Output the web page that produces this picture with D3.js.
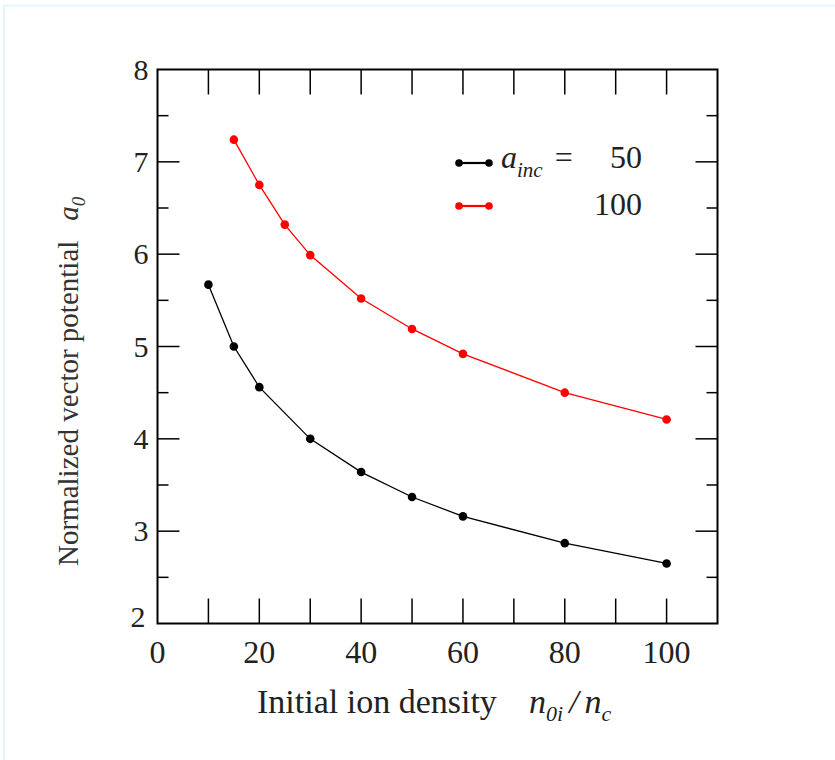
<!DOCTYPE html>
<html><head><meta charset="utf-8">
<script src="https://cdn.jsdelivr.net/npm/d3@7"></script>
<style>body{margin:0;background:#fff;}svg{display:block;}</style>
</head><body>
<script>
const density50 = [10, 15, 20, 30, 40, 50, 60, 80, 100];
const a0_50 = [5.67, 5.0, 4.56, 4.0, 3.64, 3.37, 3.16, 2.87, 2.65];
const density100 = [15, 20, 25, 30, 40, 50, 60, 80, 100];
const a0_100 = [7.24, 6.75, 6.32, 5.99, 5.52, 5.19, 4.92, 4.5, 4.21];
const xTickLabels = [0, 20, 40, 60, 80, 100];
const yTickLabels = [2, 3, 4, 5, 6, 7, 8];
const seriesNames = ["50", "100"];
const seriesColors = ["#000000", "#ff0000"];

const W = 835, H = 760;
const svg = d3.select("body").append("svg").attr("width", W).attr("height", H);
// page border
svg.append("rect").attr("x", 4).attr("y", 5.5).attr("width", W).attr("height", H)
  .attr("fill", "none").attr("stroke", "#e0f8fc").attr("stroke-width", 2);

const L = 157.5, R = 717.5, T = 69.5, B = 623.5;
const x = d3.scaleLinear().domain([0, 110]).range([L, R]);
const y = d3.scaleLinear().domain([2, 8]).range([B, T]);
const font = "'Liberation Serif','Times New Roman',serif";

const g = svg.append("g");
// ticks
const xt = d3.range(10, 110, 10);
xt.forEach(v => {
  g.append("line").attr("x1", x(v)).attr("x2", x(v)).attr("y1", B).attr("y2", B - 25).attr("stroke", "#000").attr("stroke-width", 1.5);
  g.append("line").attr("x1", x(v)).attr("x2", x(v)).attr("y1", T).attr("y2", T + 25).attr("stroke", "#000").attr("stroke-width", 1.5);
});
const yt = d3.range(2.5, 8, 0.5);
yt.forEach(v => {
  const len = Number.isInteger(v) ? 22 : 11;
  g.append("line").attr("x1", L).attr("x2", L + len).attr("y1", y(v)).attr("y2", y(v)).attr("stroke", "#000").attr("stroke-width", 1.5);
  g.append("line").attr("x1", R).attr("x2", R - len).attr("y1", y(v)).attr("y2", y(v)).attr("stroke", "#000").attr("stroke-width", 1.5);
});
g.append("rect").attr("x", L).attr("y", T).attr("width", R - L).attr("height", B - T)
  .attr("fill", "none").attr("stroke", "#000").attr("stroke-width", 2);

// tick labels
xTickLabels.forEach(v => {
  g.append("text").attr("x", x(v)).attr("y", B + 39).attr("text-anchor", "middle")
    .attr("font-family", font).attr("font-size", 32).attr("fill", "#222").text(v);
});
yTickLabels.forEach(v => {
  g.append("text").attr("x", L - (v === 2 ? 12 : 9)).attr("y", y(v) + (v === 2 ? 3 : 10)).attr("text-anchor", "end")
    .attr("font-family", font).attr("font-size", 30).attr("fill", "#222").text(v);
});

// axis titles
const xt1 = g.append("text").attr("x", 257).attr("y", 713).attr("text-anchor", "start")
  .attr("font-family", font).attr("font-size", 34).attr("fill", "#222");
xt1.append("tspan").text("Initial ion density");
xt1.append("tspan").attr("x", 529).attr("font-style", "italic").text("n");
xt1.append("tspan").attr("font-style", "italic").attr("font-size", 22).attr("dy", 8).text("0i");
xt1.append("tspan").attr("font-style", "italic").attr("dy", -8).attr("dx", 6).text("/");
xt1.append("tspan").attr("font-style", "italic").attr("dx", 6).text("n");
xt1.append("tspan").attr("font-style", "italic").attr("font-size", 22).attr("dy", 8).text("c");

const yt1 = g.append("text").attr("transform", `translate(78,566) rotate(-90)`)
  .attr("text-anchor", "start").attr("font-family", font).attr("font-size", 29).attr("fill", "#333");
yt1.append("tspan").text("Normalized vector potential");
yt1.append("tspan").attr("dx", 20).attr("font-style", "italic").text("a");
yt1.append("tspan").attr("font-style", "italic").attr("font-size", 19).attr("dy", 7).text("0");

// series
const series = [
  {xs: density50, ys: a0_50, color: seriesColors[0]},
  {xs: density100, ys: a0_100, color: seriesColors[1]}
];
const line = d3.line().x(d => x(d[0])).y(d => y(d[1]));
series.forEach(s => {
  const pts = s.xs.map((v, i) => [v, s.ys[i]]);
  g.append("path").attr("d", line(pts)).attr("fill", "none").attr("stroke", s.color).attr("stroke-width", 1.3);
  g.selectAll(null).data(pts).enter().append("circle")
    .attr("cx", d => x(d[0])).attr("cy", d => y(d[1])).attr("r", 4.3).attr("fill", s.color);
});

// legend
const lg = [{yy: 163, color: seriesColors[0], label: seriesNames[0]}, {yy: 206, color: seriesColors[1], label: seriesNames[1]}];
lg.forEach((l, i) => {
  g.append("line").attr("x1", 459).attr("x2", 489).attr("y1", l.yy).attr("y2", l.yy).attr("stroke", l.color).attr("stroke-width", 2.2);
  [459, 489].forEach(cx => g.append("circle").attr("cx", cx).attr("cy", l.yy).attr("r", 3.8).attr("fill", l.color));
  g.append("text").attr("x", 642).attr("y", l.yy + (i === 0 ? 5 : 9)).attr("text-anchor", "end")
    .attr("font-family", font).attr("font-size", 32).attr("fill", "#222").text(l.label);
});
const lt = g.append("text").attr("x", 501).attr("y", 168).attr("font-family", font).attr("font-size", 32).attr("fill", "#222");
lt.append("tspan").attr("font-style", "italic").text("a");
lt.append("tspan").attr("font-style", "italic").attr("font-size", 21).attr("dy", 9).text("inc");
lt.append("tspan").attr("dy", -9).attr("dx", 12).text("=");
</script>
</body></html>
